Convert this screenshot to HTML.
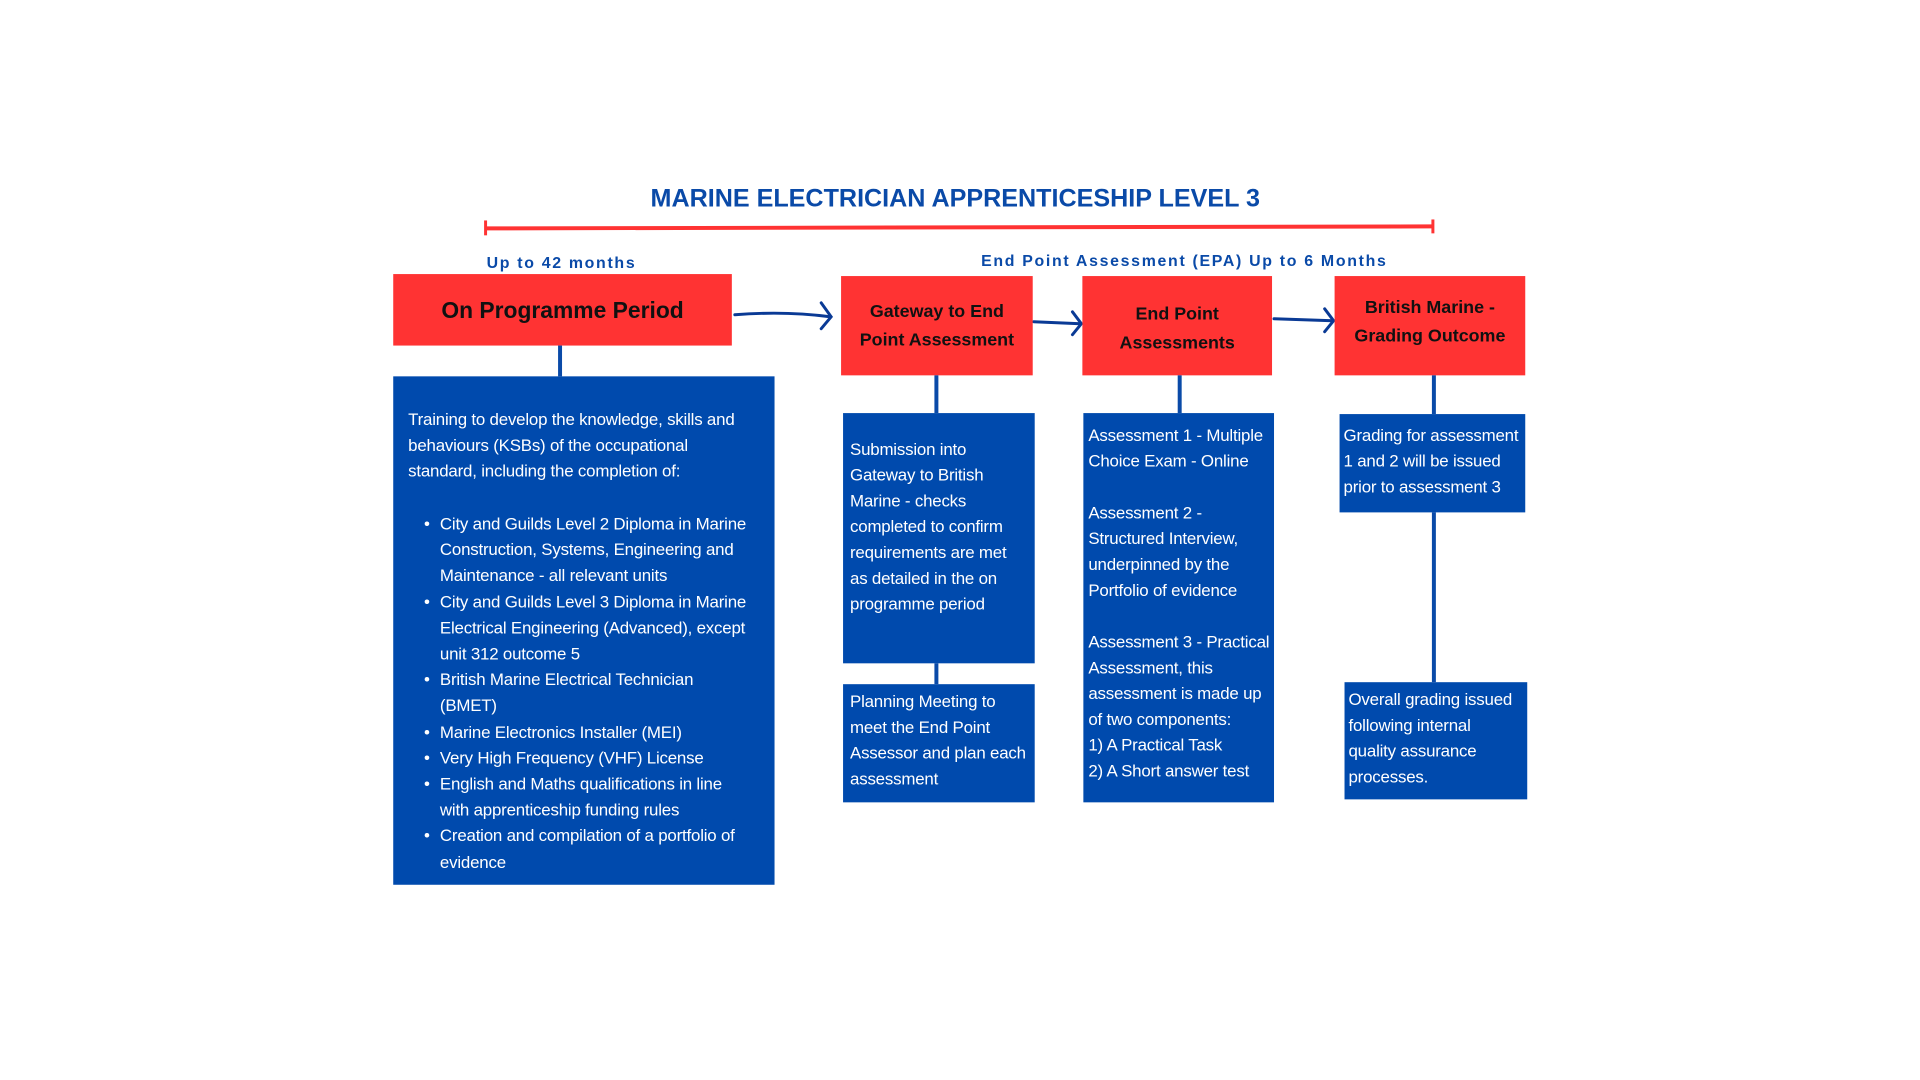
<!DOCTYPE html>
<html><head><meta charset="utf-8"><style>
body{margin:0;width:1920px;height:1080px;background:#fff;position:relative;overflow:hidden;font-family:"Liberation Sans",sans-serif}
#w{position:absolute;left:0;top:0;width:1920px;height:1080px;transform:scale(0.993);transform-origin:0 0}
.a{position:absolute}
.r{position:absolute;background:#ff3333;color:#111;font-weight:bold;display:flex;align-items:center;justify-content:center;text-align:center;font-size:18px;line-height:29px}
.b{position:absolute;background:#004aad}
.t{position:absolute;color:#fff;font-size:17px;line-height:26px;white-space:nowrap;letter-spacing:-0.2px}
.v{position:absolute;width:4px;background:#0a4aa8}
.lbl{position:absolute;color:#0a4aa8;font-weight:bold;font-size:16px;letter-spacing:1.7px;white-space:nowrap}
</style></head><body><div id="w">
<div class="a" style="left:0;width:1924px;top:186px;text-align:center;color:#0a4aa8;font-weight:bold;font-size:25.3px">MARINE ELECTRICIAN APPRENTICESHIP LEVEL 3</div>
<svg class="a" style="left:0;top:0" width="1920" height="1080">
<line x1="489" y1="230" x2="1443" y2="228" stroke="#ff3333" stroke-width="4"/>
<line x1="489" y1="222" x2="489" y2="237" stroke="#ff3333" stroke-width="3"/>
<line x1="1443" y1="221" x2="1443" y2="235" stroke="#ff3333" stroke-width="3"/>
<g stroke="#0a3a95" stroke-width="3" fill="none" stroke-linecap="round">
<path d="M740 317 Q790 313 836 319"/><path d="M827 305 L837 319 L827 331"/>
<path d="M1041 324 L1088 326"/><path d="M1080 314 L1089 326 L1080 337"/>
<path d="M1283 321 L1342 323"/><path d="M1334 311 L1343 323 L1334 334"/>
</g></svg>
<div class="lbl" style="left:490px;top:257px">Up to 42 months</div>
<div class="lbl" style="left:988px;top:255px">End Point Assessment (EPA) Up to 6 Months</div>

<div class="r" style="left:396px;top:276px;width:341px;height:72px;font-size:23px">On Programme Period</div>
<div class="r" style="left:847px;top:278px;width:193px;height:100px">Gateway to End<br>Point Assessment</div>
<div class="r" style="left:1090px;top:278px;width:191px;height:100px;padding-top:6px;box-sizing:border-box">End Point<br>Assessments</div>
<div class="r" style="left:1344px;top:278px;width:192px;height:100px;padding-bottom:8px;box-sizing:border-box">British Marine -<br>Grading Outcome</div>

<div class="v" style="left:562px;top:348px;height:31px"></div>
<div class="v" style="left:941px;top:378px;height:38px"></div>
<div class="v" style="left:941px;top:668px;height:21px"></div>
<div class="v" style="left:1186px;top:378px;height:38px"></div>
<div class="v" style="left:1442px;top:378px;height:39px"></div>
<div class="v" style="left:1442px;top:516px;height:171px"></div>

<div class="b" style="left:396px;top:379px;width:384px;height:512px"></div>
<div class="t" style="left:411px;top:410px">Training to develop the knowledge, skills and<br>behaviours (KSBs) of the occupational<br>standard, including the completion of:</div>
<div class="t" style="left:427px;top:515px;line-height:26.2px">•<br><br><br>•<br><br><br>•<br><br>•<br>•<br>•<br><br>•</div>
<div class="t" style="left:443px;top:515px;line-height:26.2px">City and Guilds Level 2 Diploma in Marine<br>Construction, Systems, Engineering and<br>Maintenance - all relevant units<br>City and Guilds Level 3 Diploma in Marine<br>Electrical Engineering (Advanced), except<br>unit 312 outcome 5<br>British Marine Electrical Technician<br>(BMET)<br>Marine Electronics Installer (MEI)<br>Very High Frequency (VHF) License<br>English and Maths qualifications in line<br>with apprenticeship funding rules<br>Creation and compilation of a portfolio of<br>evidence</div>

<div class="b" style="left:849px;top:416px;width:193px;height:252px"></div>
<div class="t" style="left:856px;top:440px">Submission into<br>Gateway to British<br>Marine - checks<br>completed to confirm<br>requirements are met<br>as detailed in the on<br>programme period</div>
<div class="b" style="left:849px;top:689px;width:193px;height:119px"></div>
<div class="t" style="left:856px;top:694px">Planning Meeting to<br>meet the End Point<br>Assessor and plan each<br>assessment</div>

<div class="b" style="left:1091px;top:416px;width:192px;height:392px"></div>
<div class="t" style="left:1096px;top:426px">Assessment 1 - Multiple<br>Choice Exam - Online<br><br>Assessment 2 -<br>Structured Interview,<br>underpinned by the<br>Portfolio of evidence<br><br>Assessment 3 - Practical<br>Assessment, this<br>assessment is made up<br>of two components:<br>1) A Practical Task<br>2) A Short answer test</div>

<div class="b" style="left:1349px;top:417px;width:187px;height:99px"></div>
<div class="t" style="left:1353px;top:426px">Grading for assessment<br>1 and 2 will be issued<br>prior to assessment 3</div>
<div class="b" style="left:1354px;top:687px;width:184px;height:118px"></div>
<div class="t" style="left:1358px;top:692px">Overall grading issued<br>following internal<br>quality assurance<br>processes.</div>
</div></body></html>
